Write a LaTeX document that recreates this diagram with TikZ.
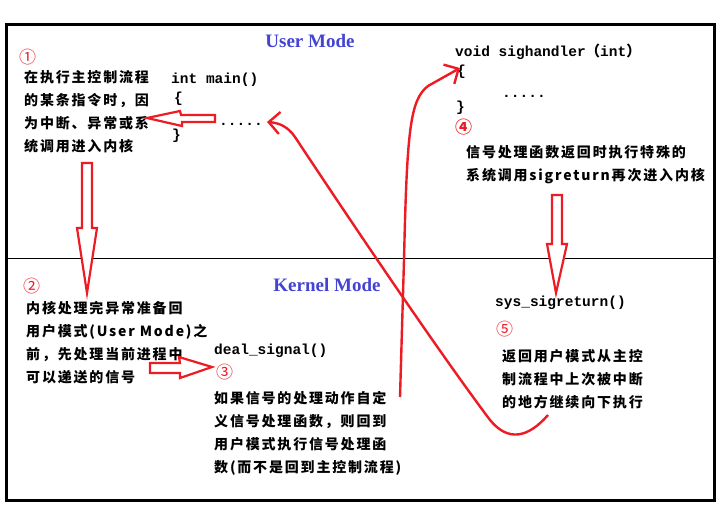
\documentclass[tikz,border=0pt]{standalone}
\usepackage{fontspec}
\setmainfont{Liberation Serif}
\newfontfamily\cjk[LetterSpace=13]{Noto Sans CJK SC}
\newfontfamily\cjkn{Noto Sans CJK SC}
\newfontfamily\code{Liberation Mono}
\usetikzlibrary{arrows.meta}
\definecolor{pred}{RGB}{237,28,36}
\definecolor{mblue}{RGB}{68,68,212}
\begin{document}
\begin{tikzpicture}[x=1pt,y=-1pt,
 cn/.style={inner sep=0, anchor=north west, align=left, font=\cjk\bfseries\fontsize{14}{23}\selectfont},
 cd/.style={inner sep=0, anchor=west, font=\code\bfseries\fontsize{14.5}{16}\selectfont},
 num/.style={inner sep=0, anchor=west, text=pred, font=\cjkn\fontsize{17}{18}\selectfont},
 mode/.style={inner sep=0, text=mblue, font=\bfseries\fontsize{19}{20}\selectfont},
 hollow/.style={draw=pred, line width=2.2pt, fill=white, line join=miter},
 flow/.style={draw=pred, line width=2.4pt, -{Straight Barb[length=11pt,width=22pt]}}]
\useasboundingbox (0,0) rectangle (717,519);
\fill[white] (0,0) rectangle (717,519);
\draw[line width=3pt] (6,25) rectangle (714,500);
\draw[line width=0.8pt] (6,258) -- (714,258);

\node[mode] (um) at (310,41) {User Mode};
\node[mode] (km) at (327,285) {Kernel Mode};

\node[num] (n1) at (19,57) {①};
\node[cn] (t1) at (24,70) {在执行主控制流程\\的某条指令时，因\\为中断、异常或系\\统调用进入内核};
\node[cd] (main) at (171,80) {int main()};
\node[cd] (ob1) at (174,99) {\{};
\node[cd,anchor=base west] (dots1) at (219,125) {.....};
\node[cd] (cb1) at (172,136) {\}};

\node[cd] (sh) at (455,52) {void sighandler{\cjkn（}int{\cjkn）}};
\node[cd] (ob2) at (457,72) {\{};
\node[cd,anchor=base west] (dots2) at (502,97) {.....};
\node[cd] (cb2) at (456,108) {\}};
\node[num,font=\cjkn\bfseries\fontsize{17}{18}\selectfont] (n4) at (455,127) {④};
\node[cn] (t4) at (466,145) {信号处理函数返回时执行特殊的\\系统调用sigreturn再次进入内核};

\node[num] (n2) at (23,286) {②};
\node[cn] (t2) at (26,301) {内核处理完异常准备回\\用户模式(User Mode)之\\前，先处理当前进程中\\可以递送的信号};
\node[cd] (deal) at (214,351) {deal\_signal()};
\node[num] (n3) at (216,372) {③};
\node[cn] (t3) at (214,391) {如果信号的处理动作自定\\义信号处理函数，则回到\\用户模式执行信号处理函\\数(而不是回到主控制流程)};
\node[cd] (sys) at (495,303) {sys\_sigreturn()};
\node[num] (n5) at (496,329) {⑤};
\node[cn] (t5) at (502,349) {返回用户模式从主控\\制流程中上次被中断\\的地方继续向下执行};

% hollow block arrows
\path[hollow] (215,115) -- (181,115) -- (180,111) -- (147,118) -- (182,126) -- (182,122) -- (215,122) -- cycle;
\path[hollow] (82,163) -- (92,163) -- (92,228) -- (97,228) -- (87,293) -- (77,228) -- (82,228) -- cycle;
\path[hollow] (150,363) -- (180,363) -- (179,357) -- (212,367) -- (180,378) -- (180,373) -- (150,373) -- cycle;
\path[hollow] (552,195) -- (562,195) -- (562,244) -- (567,244) -- (556,293) -- (547,244) -- (552,244) -- cycle;

% curved flows
\coordinate (a0) at (548,415);
\coordinate (tipA) at (267,122);
\draw[flow] (a0) .. controls (528,438) and (508,442) .. (490,420) .. controls (430,340) and (330,190) .. (295,137) .. controls (288,127) and (280,123) .. (tipA);
\coordinate (b0) at (400,397);
\coordinate (tipB) at (460,68);
\draw[flow] (b0) -- (404,260) .. controls (407,130) and (410,100) .. (428,86) -- (tipB);
\end{tikzpicture}
\end{document}
